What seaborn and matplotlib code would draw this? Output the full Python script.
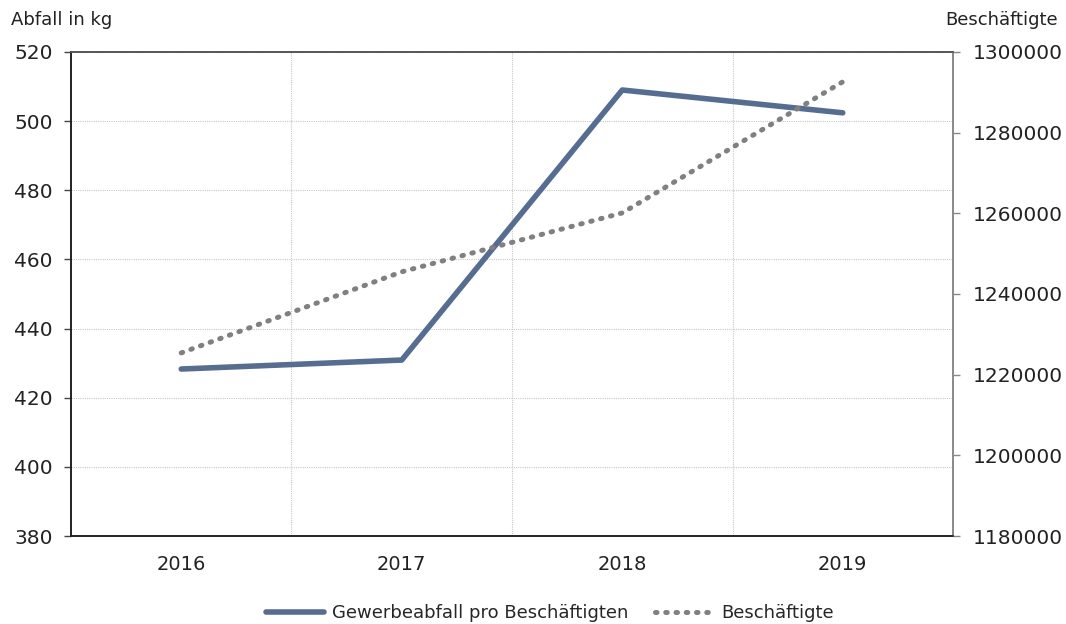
import numpy as np
import pandas as pd
import seaborn as sns
import matplotlib.pyplot as plt
from matplotlib.lines import Line2D

years = ["2016", "2017", "2018", "2019"]
abfall_kg = [428.3, 430.9, 509.0, 502.4]
beschaeftigte = [1225400, 1245500, 1260100, 1292600]

df = pd.DataFrame({"Jahr": years, "Abfall": abfall_kg, "Beschaeftigte": beschaeftigte})

sns.set_theme(style="white")
plt.rcParams["font.family"] = ["DejaVu Sans"]

blue = "#566d91"
grey = "#808080"

fig = plt.figure(figsize=(10.66, 6.24), dpi=100)
ax = fig.add_axes([0.0666, 0.141, 0.8274, 0.7757])
ax2 = ax.twinx()

sns.lineplot(data=df, x="Jahr", y="Abfall", ax=ax, color=blue, linewidth=4, zorder=3)
sns.lineplot(data=df, x="Jahr", y="Beschaeftigte", ax=ax2, color=grey, linewidth=3.6,
             linestyle=(0, (0.3, 1.75)), dash_capstyle="round", zorder=2)

ax.set_xlim(-0.5, 3.5)
ax.set_ylim(380, 520)
ax.set_yticks(np.arange(380, 521, 20))
ax2.set_ylim(1180000, 1300000)
ax2.set_yticks(np.arange(1180000, 1300001, 20000))
ax2.yaxis.set_major_formatter(plt.FuncFormatter(lambda v, p: f"{int(v)}"))

ax.set_xticks(range(4))
ax.set_xticks([0.5, 1.5, 2.5], minor=True)
ax.tick_params(axis="x", which="major", length=0, labelsize=14, pad=14, colors="#222222")
ax.tick_params(axis="x", which="minor", length=5, width=1, color="#444444", direction="inout")
ax.tick_params(axis="y", length=5, width=1, color="#444444", labelsize=14.5, pad=8, colors="#222222", direction="out")
ax2.tick_params(axis="y", length=5, width=1, color="#888888", labelsize=14.5, pad=9.5, colors="#222222")

ax.grid(True, axis="y", which="major", color="#c8c8c8", linestyle=(0, (1, 1)), linewidth=0.8)
ax.grid(True, axis="x", which="minor", color="#c8c8c8", linestyle=(0, (1, 1)), linewidth=0.8)
ax.set_axisbelow(True)
ax2.grid(False)

ax.set_xlabel("")
ax.set_ylabel("")
ax2.set_ylabel("")

for a in (ax, ax2):
    a.spines["left"].set_color("#222222")
    a.spines["bottom"].set_color("#222222")
    a.spines["top"].set_color("#555555")
    a.spines["right"].set_color("#888888")
    for s in a.spines.values():
        s.set_linewidth(1.2)

fig.text(0.010, 0.968, "Abfall in kg", fontsize=13, color="#222222", ha="left", va="center")
fig.text(0.992, 0.968, "Beschäftigte", fontsize=13, color="#222222", ha="right", va="center")

handles = [Line2D([], [], color=blue, linewidth=4),
           Line2D([], [], color=grey, linewidth=3.6, linestyle=(0, (0.3, 1.75)), dash_capstyle="round")]
fig.legend(handles, ["Gewerbeabfall pro Beschäftigten", "Beschäftigte"], loc="center",
           bbox_to_anchor=(0.516, 0.017), ncol=2, frameon=False, fontsize=13,
           handlelength=3.2, columnspacing=1.5, handletextpad=0.45)

fig.savefig("out.png", dpi=100)
